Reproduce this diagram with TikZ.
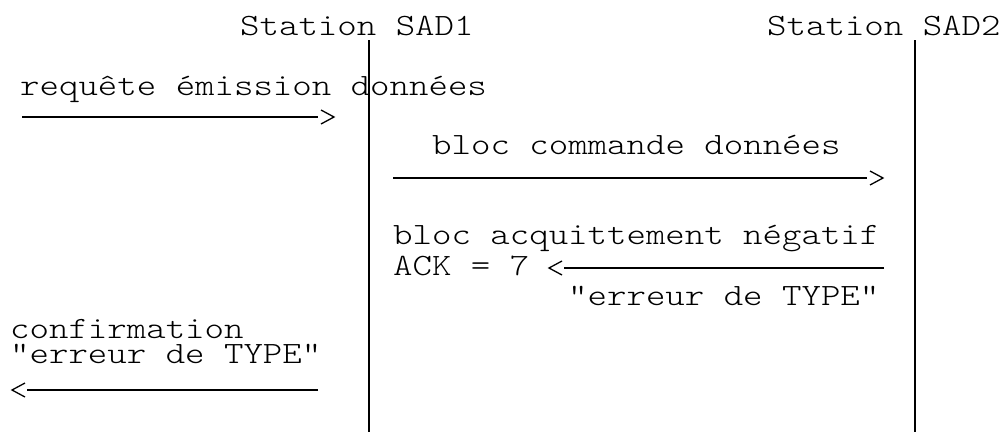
\documentclass[tikz,border=0pt]{standalone}
\usepackage{fontspec}
\newfontfamily\courfont{lmmonolt10-regular.otf}[FakeStretch=1.195]
\usetikzlibrary{calc}
\begin{document}
\begin{tikzpicture}[x=1pt,y=-1pt,
  txt/.style={anchor=base west,inner sep=0pt,font=\courfont\fontsize{31}{31}\selectfont},
  life/.style={line width=1.4pt},
  msg/.style={line width=1.1pt},
  chev/.style={line width=1.3pt,line join=miter}]
\useasboundingbox (0,0) rectangle (999,432);
% stations
\node[txt] (sad1) at (240,35) {Station SAD1};
\node[txt] (sad2) at (767,35) {Station SAD2};
\coordinate (l1top) at (369,40);
\coordinate (l1bot) at (369,432);
\coordinate (l2top) at (915,40);
\coordinate (l2bot) at (915,432);
\draw[life] (l1top) -- (l1bot);
\draw[life] (l2top) -- (l2bot);
% message 1
\node[txt] (req) at (20,95) {requête émission données};
\coordinate (a1s) at (22,117);
\coordinate (a1e) at (318,117);
\coordinate (a1t) at (334,117);
\draw[msg] (a1s) -- (a1e);
\draw[chev] ($(a1t)+(-13,-7)$) -- (a1t) -- ($(a1t)+(-13,7)$);
% message 2
\node[txt] (cmd) at (432,154) {bloc commande données};
\coordinate (a2s) at (393,178);
\coordinate (a2e) at (867,178);
\coordinate (a2t) at (883,178);
\draw[msg] (a2s) -- (a2e);
\draw[chev] ($(a2t)+(-13,-7)$) -- (a2t) -- ($(a2t)+(-13,7)$);
% message 3
\node[txt] (acq) at (393,244) {bloc acquittement négatif};
\node[txt] (ack) at (393,275) {ACK = 7};
\coordinate (a3s) at (884,268);
\coordinate (a3e) at (564,268);
\coordinate (a3t) at (549,268);
\draw[msg] (a3s) -- (a3e);
\draw[chev] ($(a3t)+(13,-7)$) -- (a3t) -- ($(a3t)+(13,7)$);
\node[txt] (err1) at (568,305) {"erreur de TYPE"};
% message 4
\node[txt] (conf) at (10,338) {confirmation};
\node[txt] (err2) at (10,363) {"erreur de TYPE"};
\coordinate (a4s) at (318,390);
\coordinate (a4e) at (27,390);
\coordinate (a4t) at (12,390);
\draw[msg] (a4s) -- (a4e);
\draw[chev] ($(a4t)+(13,-7)$) -- (a4t) -- ($(a4t)+(13,7)$);
\end{tikzpicture}
\end{document}
